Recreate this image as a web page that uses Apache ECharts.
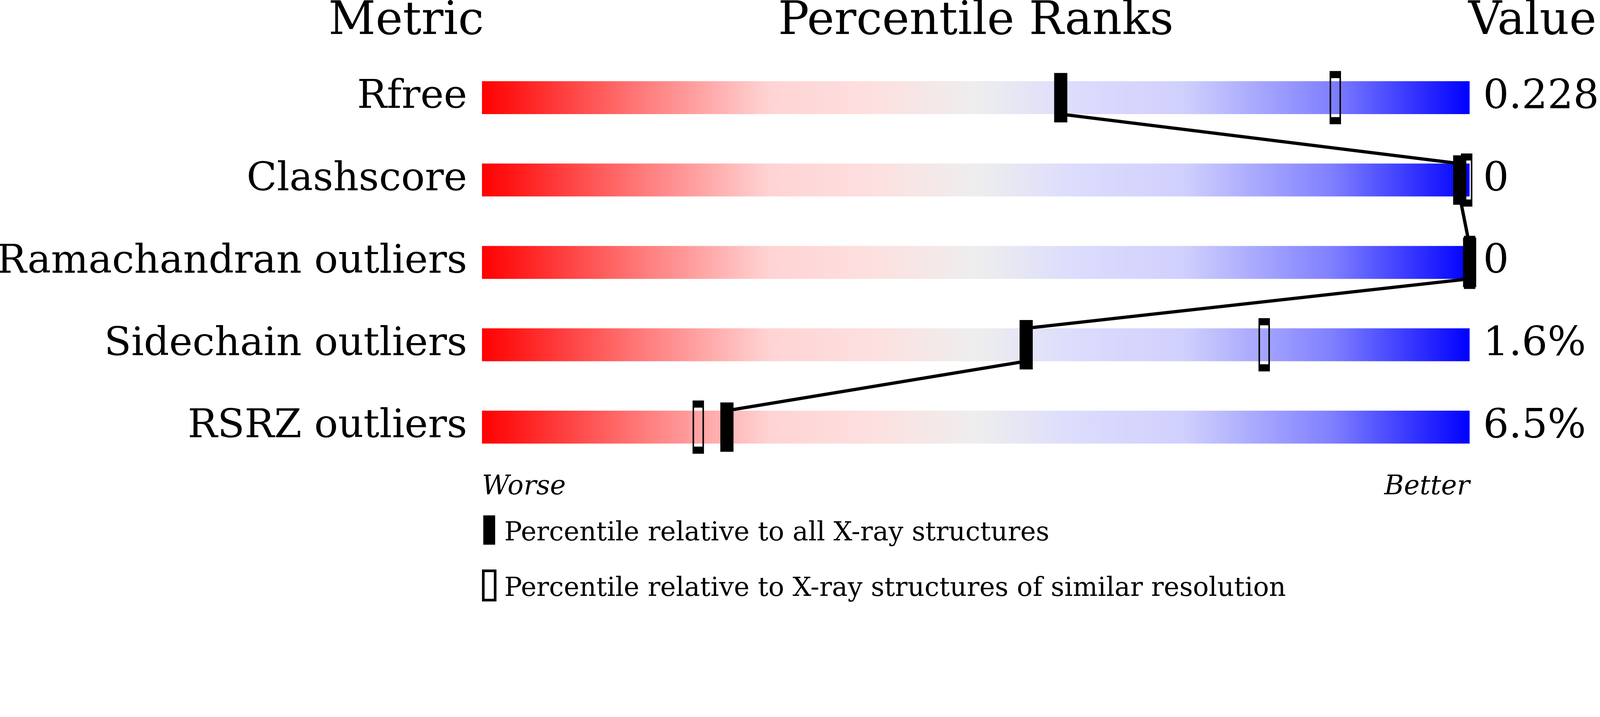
<!DOCTYPE html>
<html>
<head>
<meta charset="utf-8">
<script src="https://cdn.jsdelivr.net/npm/echarts@6/dist/echarts.min.js"></script>
<style>
  html, body { margin: 0; padding: 0; background: #fff; overflow: hidden; }
</style>
</head>
<body>
<div id="chart"></div>
<script>
// slider data
var metrics = ['Rfree', 'Clashscore', 'Ramachandran outliers', 'Sidechain outliers', 'RSRZ outliers'];
var metricValues = ['0.228', '0', '0', '1.6%', '6.5%'];
var pctAll = [58.6, 99, 100, 55.1, 24.8];
var pctSimilar = [86.4, 99.7, 100, 79.2, 21.9];
var scaleLabels = ['Worse', 'Better'];
var legendNames = ['Percentile relative to all X-ray structures',
                   'Percentile relative to X-ray structures of similar resolution'];
var scaleMax = 100;

// layout is written for a 4860 x 1835 picture, scaled to the real viewport
var W = 4860, H = 1835;
var s = Math.min(window.innerWidth / W, window.innerHeight / H);
function P(v) { return v * s; }

var el = document.getElementById('chart');
el.style.width = P(W) + 'px';
el.style.height = P(H) + 'px';

var FONT = 'DejaVu Serif';
var BAR_H = P(100);

var chart = echarts.init(el);

var barData = metrics.map(function () { return scaleMax; });
var linkData = [];
for (var i = 0; i < pctAll.length - 1; i++) {
  linkData.push([pctAll[i], i, pctAll[i + 1], i + 1]);
}

function header(text, x, align) {
  return {
    type: 'text', x: P(x), y: P(67),
    style: { text: text, font: P(140) + 'px "DejaVu Serif"', fill: '#000', align: align, verticalAlign: 'middle' }
  };
}

var option = {
  animation: false,
  grid: { left: P(1464), right: P(396), top: P(171.5), bottom: P(413.5), outerBoundsMode: 'none' },
  xAxis: {
    type: 'value', min: 0, max: scaleMax, interval: scaleMax,
    splitLine: { show: false }, axisLine: { show: false }, axisTick: { show: false },
    axisLabel: {
      margin: P(17),
      fontFamily: FONT, fontSize: P(81), fontStyle: 'italic', color: '#000',
      alignMinLabel: 'left', alignMaxLabel: 'right',
      formatter: function (v) { return v === 0 ? scaleLabels[0] : scaleLabels[1]; }
    }
  },
  yAxis: [{
    type: 'category', data: metrics, inverse: true,
    axisLine: { show: false }, axisTick: { show: false },
    axisLabel: { margin: P(45), fontFamily: FONT, fontSize: P(120), color: '#000', padding: [P(34), 0, 0, 0] }
  }, {
    type: 'category', data: metricValues, inverse: true, position: 'right',
    axisLine: { show: false }, axisTick: { show: false },
    axisLabel: { margin: P(41), fontFamily: FONT, fontSize: P(123), color: '#000', padding: [P(34), 0, 0, 0] }
  }],
  legend: {
    orient: 'vertical', left: P(1464), top: P(1565), height: P(340), padding: 0,
    itemWidth: P(36), itemHeight: P(89), itemGap: P(69),
    selectedMode: false,
    formatter: function (name) { return '{t|' + name + '}'; },
    textStyle: {
      fontFamily: FONT, fontSize: P(80), color: '#000',
      rich: { t: { fontFamily: FONT, fontSize: P(80), color: '#000', padding: [P(22), 0, 0, P(22)] } }
    },
    data: [
      { name: legendNames[0], icon: 'rect', itemStyle: { color: '#000', borderWidth: 0 } },
      { name: legendNames[1], icon: 'rect', itemStyle: { color: 'rgba(0,0,0,0)', borderColor: '#000', borderWidth: P(8) } }
    ]
  },
  graphic: [
    header('Metric', 1470, 'right'),
    header('Percentile Ranks', 2964, 'center'),
    header('Value', 4460, 'left')
  ],
  series: [
    {
      type: 'bar', data: barData, barWidth: BAR_H, silent: true, z: 1,
      itemStyle: {
        color: {
          type: 'linear', x: 0, y: 0, x2: 1, y2: 0,
          colorStops: [
            { offset: 0, color: '#ff0000' },
            { offset: 0.15, color: '#ff7272' },
            { offset: 0.29, color: '#ffd3d3' },
            { offset: 0.4, color: '#fde0e0' },
            { offset: 0.5, color: '#eeeeee' },
            { offset: 0.6, color: '#dcdcfd' },
            { offset: 0.71, color: '#d0d0fd' },
            { offset: 0.86, color: '#8080ff' },
            { offset: 1, color: '#0000ff' }
          ]
        }
      }
    },
    {
      type: 'custom', data: linkData, silent: true, z: 2, clip: false,
      encode: { x: [0, 2], y: [1, 3] },
      renderItem: function (params, api) {
        var a = api.coord([api.value(0), api.value(1)]);
        var b = api.coord([api.value(2), api.value(3)]);
        return {
          type: 'line',
          shape: { x1: a[0], y1: a[1] + BAR_H / 2, x2: b[0], y2: b[1] - BAR_H / 2 },
          style: { stroke: '#000', lineWidth: P(10) }
        };
      }
    },
    {
      name: legendNames[1], type: 'scatter', z: 3, silent: true, clip: false,
      data: pctSimilar.map(function (p, i) { return [p, i]; }),
      symbol: 'rect', symbolSize: [P(30), P(140)],
      itemStyle: { color: 'rgba(0,0,0,0)', borderColor: '#000', borderWidth: P(10), opacity: 1 }
    },
    {
      name: legendNames[0], type: 'scatter', z: 4, silent: true, clip: false,
      data: pctAll.map(function (p, i) { return [p, i]; }),
      symbol: 'rect', symbolSize: [P(40), P(150)],
      itemStyle: { color: '#000', opacity: 1 }
    }
  ]
};

chart.setOption(option);
</script>
</body>
</html>
